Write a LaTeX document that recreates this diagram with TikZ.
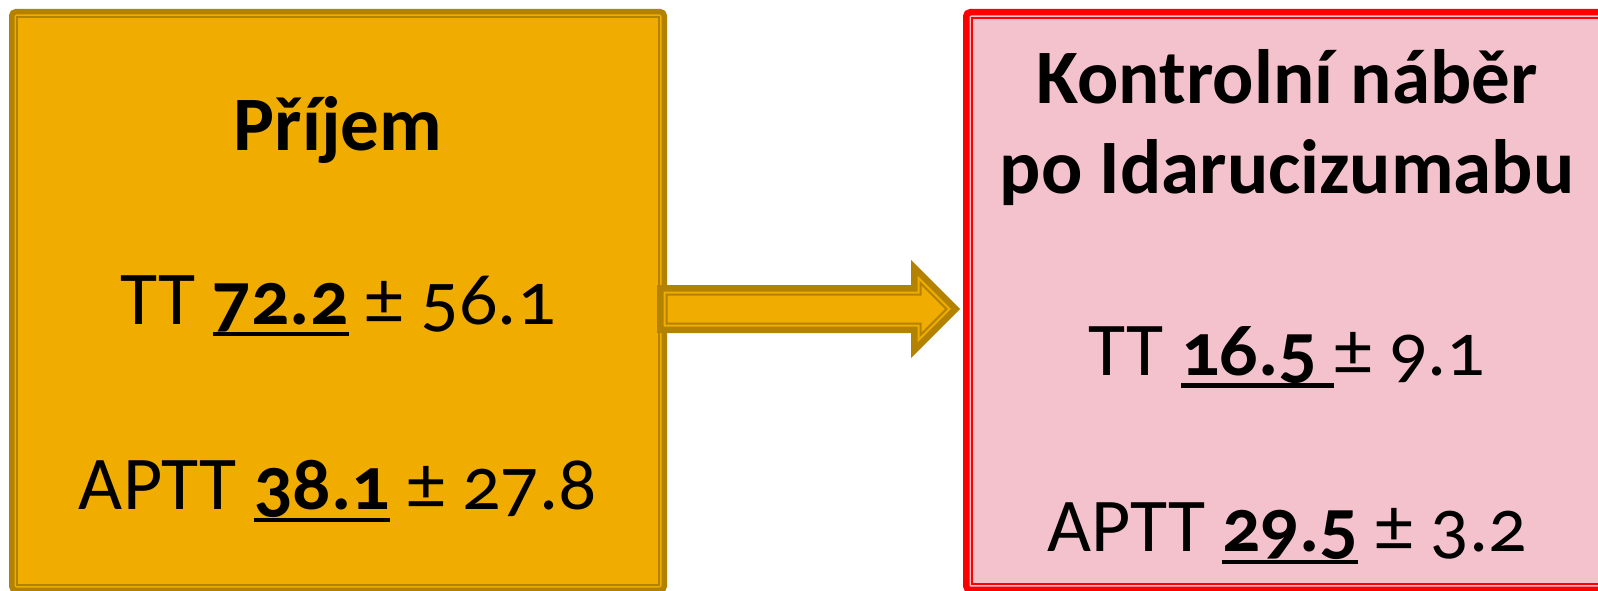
\documentclass[tikz,border=0pt]{standalone}
\usepackage{fontspec}
\setmainfont{Carlito}[Numbers=OldStyle]
\definecolor{gfill}{HTML}{F0AD00}
\definecolor{gdark}{HTML}{B38200}
\definecolor{pfill}{HTML}{F4C2CC}
\definecolor{pred}{HTML}{FF0000}
% thick underline under a value
\newcommand\ulnum[1]{\setbox0\hbox{#1}\rlap{\rule[-12.5pt]{\wd0}{4.5pt}}\box0\relax}
% block arrow outline, inset by #1
\newcommand\blockarrow[1]{({657+#1},{305-#1}) -- ({911+#1},{305-#1}) -- ({911+#1},{330-2.4142*#1}) -- ({960-1.4142*#1},281) -- ({911+#1},{232+2.4142*#1}) -- ({911+#1},{257+#1}) -- ({657+#1},{257+#1}) -- cycle}
\begin{document}
\begin{tikzpicture}[x=1pt,y=1pt,
  panel/.style={inner sep=0pt, outer sep=0pt, rounded corners=4pt},
  txt/.style={anchor=base, inner sep=0pt, font=\fontsize{76}{90}\selectfont},
  ttl/.style={txt, font=\fontsize{77}{90}\selectfont\bfseries}]
\useasboundingbox (0,0) rectangle (1598,590);
\clip (0,0) rectangle (1598,590);

% admission panel
\node[panel, draw=gdark, fill=gfill, line width=5.5pt,
      minimum width=652.5pt, minimum height=578.5pt] (left) at (338,289) {};
\draw[gdark, line width=2pt] ([shift={(5.25,-5.25)}]left.north west) rectangle ([shift={(-5.25,5.25)}]left.south east);

% follow-up panel
\node[panel, draw=pred, fill=pfill, line width=6.5pt,
      minimum width=645.5pt, minimum height=577.7pt] (right) at (1289,288.9) {};
\draw[pred, line width=1.8pt] ([shift={(5.75,-5.75)}]right.north west) rectangle ([shift={(-5.75,5.75)}]right.south east);

% block arrow between the panels
\fill[gdark] \blockarrow{0};
\fill[gfill] \blockarrow{6.5};
\draw[gdark, line width=2pt, line join=miter] \blockarrow{9.5};

% texts
\node[ttl] (t1) at (338,439) {Příjem};
\node[txt] (t2) at (338,266) {TT \ulnum{\bfseries 72.2} ± 56.1};
\node[txt] (t3) at (338,80.5) {APTT \ulnum{\bfseries 38.1} ± 27.8};

\node[ttl] (r1) at (1287,486.7) {Kontrolní náběr};
\node[ttl] (r2) at (1287,396.7) {po Idarucizumabu};
\node[txt] (r3) at (1287,215) {TT \ulnum{\bfseries 16.5\ }± 9.1};
\node[txt] (r4) at (1287,38.5) {APTT \ulnum{\bfseries 29.5} ± 3.2};
\end{tikzpicture}
\end{document}
